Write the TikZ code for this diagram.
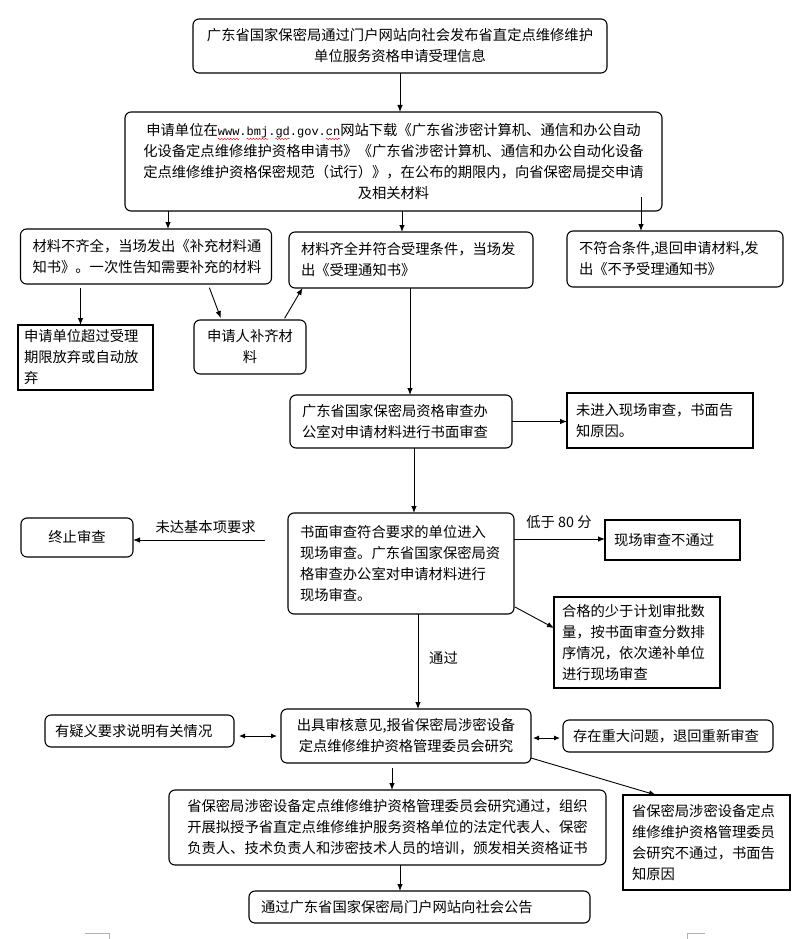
\documentclass[tikz,border=0pt]{standalone}
\usepackage{fontspec}
\setmainfont{Noto Sans CJK SC}
\newfontfamily\urlfont{Liberation Mono}
\usetikzlibrary{arrows.meta,calc,decorations.pathmorphing}
\newcommand\urlf{\urlfont\fontsize{12}{21}\selectfont}
\newsavebox\wavebox
\newlength\wavelen
\newcommand\rwave[1]{\sbox\wavebox{\urlf#1}\setlength\wavelen{\wd\wavebox}%
  \rlap{\tikz[baseline=0pt]{\path (0pt,0pt);
    \draw[overlay,red!85!black,line width=0.4pt,rounded corners=0pt,decorate,decoration={zigzag,amplitude=0.7pt,segment length=3pt}] (0pt,-3.4pt) -- (\wavelen,-3.4pt);}}%
  \usebox\wavebox}
\begin{document}
\begin{tikzpicture}[x=1pt,y=-1pt,
  every node/.style={font=\fontsize{14.3}{21}\selectfont},
  rbox/.style={draw,line width=1.1pt,rounded corners=6pt,inner xsep=12pt,inner ysep=0pt,
    minimum height=#1,outer sep=0pt},
  sbox/.style={draw,line width=1.1pt,inner xsep=9pt,inner ysep=0pt,minimum height=#1,outer sep=0pt},
  arr/.style={line width=0.9pt,-{Latex[length=7pt,width=5.5pt]}},
  darr/.style={line width=0.9pt,{Latex[length=6pt,width=5pt]}-{Latex[length=6pt,width=5pt]}},
  lbl/.style={inner sep=0pt}]
\useasboundingbox (0,0) rectangle (800,939);
% nodes
\node[rbox=54pt,text width=390pt,align=center] (b1) at (400,46)
  {广东省国家保密局通过门户网站向社会发布省直定点维修维护\\单位服务资格申请受理信息};
\node[rbox=99pt,text width=513pt,align=center] (b2) at (393.5,161.5)
  {申请单位在\rwave{www}{\urlf.}\rwave{bmj}{\urlf.}\rwave{gd}{\urlf.gov.}\rwave{cn}网站下载《广东省涉密计算机、通信和办公自动\\化设备定点维修维护资格申请书》《广东省涉密计算机、通信和办公自动化设备\\定点维修维护资格保密规范（试行）》，在公布的期限内，向省保密局提交申请\\及相关材料};
\node[rbox=55pt,text width=227pt,align=left] (b3a) at (146,256.5)
  {材料不齐全，当场发出《补充材料通\\知书》。一次性告知需要补充的材料};
\node[rbox=56pt,text width=220pt,align=left] (b3b) at (411,260)
  {材料齐全并符合受理条件，当场发\\出《受理通知书》};
\node[rbox=56pt,text width=192pt,align=left] (b3c) at (675,259)
  {不符合条件,退回申请材料,发\\出《不予受理通知书》};
\node[sbox=65pt,inner xsep=6pt,text width=123pt,align=left] (b4a) at (85.5,357.5)
  {申请单位超过受理\\期限放弃或自动放\\弃};
\node[rbox=54pt,inner xsep=6pt,text width=100pt,align=center] (b4b) at (250,347)
  {申请人补齐材\\料};
\node[rbox=53pt,text width=198pt,align=left] (b5) at (401,421.5)
  {广东省国家保密局资格审查办\\公室对申请材料进行书面审查};
\node[sbox=55pt,text width=168pt,align=left] (b5b) at (660,420.5)
  {未进入现场审查，书面告\\知原因。};
\node[rbox=101pt,text width=202pt,align=left] (b6) at (401,563.5)
  {书面审查符合要求的单位进入\\现场审查。广东省国家保密局资\\格审查办公室对申请材料进行\\现场审查。};
\node[rbox=39pt,text width=88pt,align=center] (bstop) at (77,537.5) {终止审查};
\node[sbox=40pt,text width=117pt,align=left] (bfail) at (672.5,540) {现场审查不通过};
\node[sbox=91pt,inner xsep=8pt,text width=150pt,align=left] (bq) at (637,642.5)
  {合格的少于计划审批数\\量，按书面审查分数排\\序情况，依次递补单位\\进行现场审查};
\node[rbox=54pt,text width=226pt,align=center] (b7) at (406,736)
  {出具审核意见,报省保密局涉密设备\\定点维修维护资格管理委员会研究};
\node[rbox=32pt,inner xsep=10pt,text width=169pt,align=left] (bleft) at (139.5,731)
  {有疑义要求说明有关情况};
\node[rbox=32pt,inner xsep=10pt,text width=190pt,align=left] (bright) at (668,736)
  {存在重大问题，退回重新审查};
\node[rbox=75pt,text width=413pt,align=center] (b8) at (387.5,827.5)
  {省保密局涉密设备定点维修维护资格管理委员会研究通过，组织\\开展拟授予省直定点维修维护服务资格单位的法定代表人、保密\\负责人、技术负责人和涉密技术人员的培训，颁发相关资格证书};
\node[sbox=95pt,inner xsep=9pt,text width=149pt,align=left] (b8b) at (706.5,842.5)
  {省保密局涉密设备定点\\维修维护资格管理委员\\会研究不通过，书面告\\知原因};
\node[rbox=32pt,text width=317pt,align=left] (b9) at (419.5,907)
  {通过广东省国家保密局门户网站向社会公告};
% helper coordinates
\coordinate (x80) at (80.5,0);
\coordinate (x168) at (168,0);
\coordinate (x208) at (208,0);
\coordinate (x221) at (221.5,0);
\coordinate (x284) at (283.6,0);
\coordinate (x302) at (302.5,0);
\coordinate (x392) at (392,0);
\coordinate (x400) at (400,0);
\coordinate (x402) at (402,0);
\coordinate (x410) at (410,0);
\coordinate (x414) at (414,0);
\coordinate (x418) at (418,0);
\coordinate (x656) at (656,0);
\coordinate (y539) at (0,539);
\coordinate (y628) at (0,628);
\coordinate (y736) at (0,736);
\coordinate (y738) at (0,738);
\coordinate (c4s) at (641,197);
\coordinate (c11) at (265,540);
\coordinate (c13) at (515,607);
\coordinate (c18) at (531,758);
% connectors
\draw[arr] (b1.south -| x400) -- (b2.north -| x400);
\draw[arr] (b2.south -| x168) -- (b3a.north -| x168);
\draw[arr] (b2.south -| x402) -- (b3b.north -| x402);
\draw[arr] (c4s) -- (b3c.north -| c4s);
\draw[arr,shorten <=4pt] (b3a.south -| x80) -- (b4a.north -| x80);
\draw[arr,shorten <=4pt,shorten >=2pt] (b3a.south -| x208) -- (b4b.north -| x221);
\draw[arr,shorten <=2pt] (b4b.north -| x284) -- (b3b.south -| x302);
\draw[arr] (b3b.south -| x410) -- (b5.north -| x410);
\draw[arr] (b5.east) -- (b5.east -| b5b.west);
\draw[arr] (b5.south -| x414) -- (b6.north -| x414);
\draw[arr] (c11) -- (bstop.east |- c11)
  node[lbl,pos=0.45,above=6pt] (l1) {未达基本项要求};
\draw[arr] (b6.east |- y539) -- (bfail.west |- y539);
\node[lbl] (l2) at (559,522) {低于 80 分};
\draw[arr] (c13) -- (bq.west |- y628);
\draw[arr] (b6.south -| x418) -- (b7.north -| x418);
\node[lbl] (l3) at (443.5,658) {通过};
\draw[darr,shorten <=5pt,shorten >=4pt] (bleft.east |- y736) -- (b7.west |- y736);
\draw[darr,shorten <=2pt,shorten >=3pt] (b7.east |- y738) -- (bright.west |- y738);
\draw[arr,shorten <=5pt] (b7.south -| x392) -- (b8.north -| x392);
\draw[arr] (c18) -- (b8b.north -| x656);
\draw[arr] (b8.south -| x400) -- (b9.north -| x400);
% page corner marks
\draw[gray!60,line width=0.8pt] (85,933) -- (109,933) -- (109,939);
\draw[gray!60,line width=0.8pt] (687,939) -- (687,933) -- (705,933);
\end{tikzpicture}
\end{document}
